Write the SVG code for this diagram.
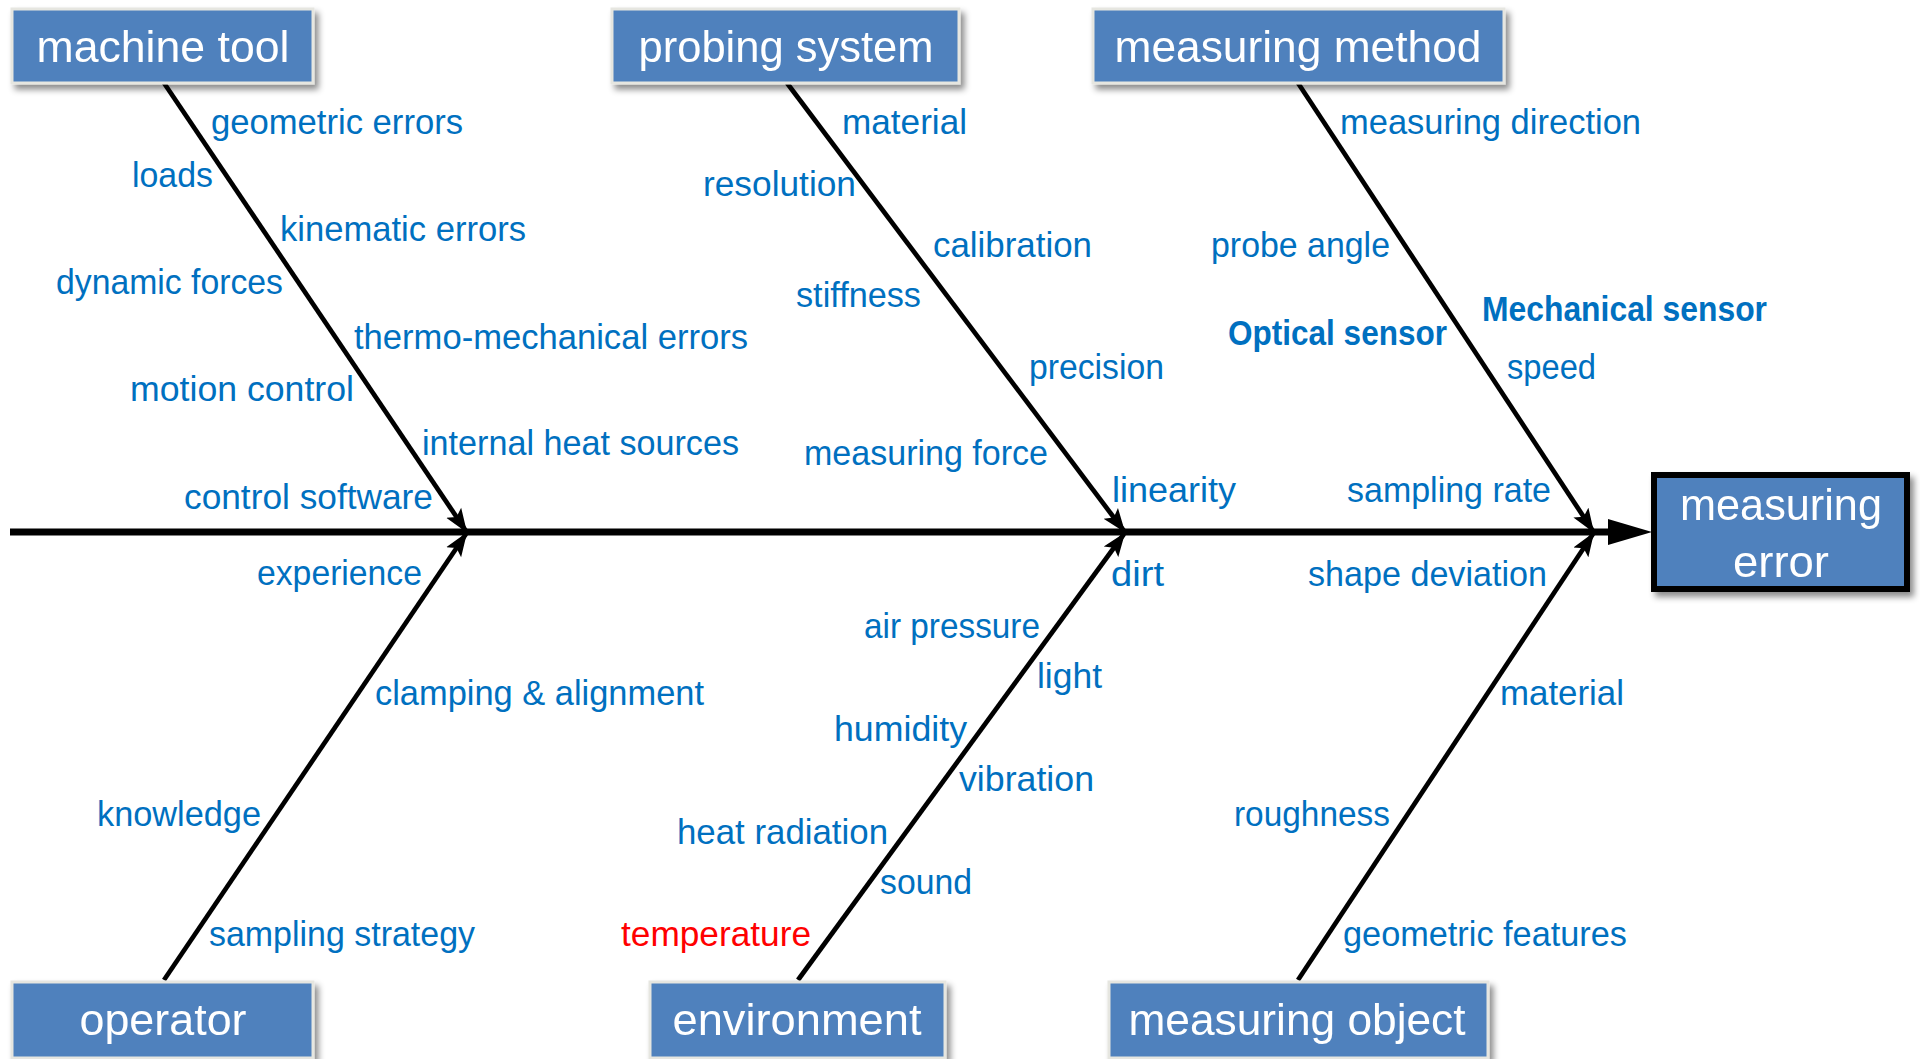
<svg xmlns="http://www.w3.org/2000/svg" width="1920" height="1059" viewBox="0 0 1920 1059">
<style>
.box{fill:#4F81BD;stroke:#E6E6E0;stroke-width:3}
.effect{fill:#4F81BD;stroke:#000;stroke-width:6}
.bt{font-family:'Liberation Sans',Arial,sans-serif;font-size:45px;fill:#fff;text-anchor:middle}
.lbl{font-family:'Liberation Sans',Arial,sans-serif;font-size:35px;fill:#0070C0}
.b{font-weight:bold}
.red{fill:#FF0000}
.bone{stroke:#000;stroke-width:4.7;fill:none;marker-end:url(#ah)}
.spine{stroke:#000;stroke-width:7;fill:none}
</style>
<defs>
<filter id="sh" x="-10%" y="-20%" width="130%" height="150%">
<feDropShadow dx="4" dy="5" stdDeviation="3" flood-color="#000" flood-opacity="0.45"/>
</filter>
<marker id="ah" markerUnits="userSpaceOnUse" markerWidth="24" markerHeight="20" viewBox="0 0 24 20" refX="22" refY="10" orient="auto">
<path d="M0,1 L24,10 L0,19 L5,10 Z" fill="#000"/>
</marker>
</defs>
<rect width="1920" height="1059" fill="#fff"/>

<g id="connectors">
<line class="spine" x1="10" y1="532" x2="1615" y2="532"/>
<path d="M1608,519 L1652,532 L1608,545 Z" fill="#000"/>
<line class="bone" x1="164" y1="83" x2="466" y2="531"/>
<line class="bone" x1="787" y1="83" x2="1124" y2="531"/>
<line class="bone" x1="1298" y1="83" x2="1593" y2="531"/>
<line class="bone" x1="164" y1="980" x2="466" y2="534"/>
<line class="bone" x1="798" y1="980" x2="1124" y2="534"/>
<line class="bone" x1="1298" y1="980" x2="1593" y2="534"/>
</g>

<g id="machine-tool" filter="url(#sh)">
<rect class="box" x="12" y="9" width="301" height="74"/>
<text class="bt" x="163" y="62" textLength="253" lengthAdjust="spacingAndGlyphs">machine tool</text>
</g>
<g id="probing-system" filter="url(#sh)">
<rect class="box" x="612" y="9" width="347" height="74"/>
<text class="bt" x="786" y="62" textLength="295" lengthAdjust="spacingAndGlyphs">probing system</text>
</g>
<g id="measuring-method" filter="url(#sh)">
<rect class="box" x="1093" y="9" width="411" height="74"/>
<text class="bt" x="1298" y="62" textLength="367" lengthAdjust="spacingAndGlyphs">measuring method</text>
</g>
<g id="operator" filter="url(#sh)">
<rect class="box" x="12" y="982" width="301" height="76"/>
<text class="bt" x="163" y="1035" textLength="167" lengthAdjust="spacingAndGlyphs">operator</text>
</g>
<g id="environment" filter="url(#sh)">
<rect class="box" x="650" y="982" width="295" height="76"/>
<text class="bt" x="797" y="1035" textLength="249" lengthAdjust="spacingAndGlyphs">environment</text>
</g>
<g id="measuring-object" filter="url(#sh)">
<rect class="box" x="1109" y="982" width="379" height="76"/>
<text class="bt" x="1297" y="1035" textLength="337" lengthAdjust="spacingAndGlyphs">measuring object</text>
</g>
<g id="measuring-error" filter="url(#sh)">
<rect class="effect" x="1654" y="475" width="253" height="114"/>
<text class="bt" x="1781" y="520" textLength="202" lengthAdjust="spacingAndGlyphs">measuring</text>
<text class="bt" x="1781" y="577" textLength="96" lengthAdjust="spacingAndGlyphs">error</text>
</g>

<g id="labels-machine-tool">
<text class="lbl" x="211" y="134" textLength="252" lengthAdjust="spacingAndGlyphs">geometric errors</text>
<text class="lbl" x="132" y="187" textLength="81" lengthAdjust="spacingAndGlyphs">loads</text>
<text class="lbl" x="280" y="241" textLength="246" lengthAdjust="spacingAndGlyphs">kinematic errors</text>
<text class="lbl" x="56" y="294" textLength="227" lengthAdjust="spacingAndGlyphs">dynamic forces</text>
<text class="lbl" x="354" y="349" textLength="394" lengthAdjust="spacingAndGlyphs">thermo-mechanical errors</text>
<text class="lbl" x="130" y="401" textLength="224" lengthAdjust="spacingAndGlyphs">motion control</text>
<text class="lbl" x="422" y="455" textLength="317" lengthAdjust="spacingAndGlyphs">internal heat sources</text>
<text class="lbl" x="184" y="509" textLength="249" lengthAdjust="spacingAndGlyphs">control software</text>
</g>
<g id="labels-operator">
<text class="lbl" x="257" y="585" textLength="165" lengthAdjust="spacingAndGlyphs">experience</text>
<text class="lbl" x="375" y="705" textLength="329" lengthAdjust="spacingAndGlyphs">clamping &amp; alignment</text>
<text class="lbl" x="97" y="826" textLength="164" lengthAdjust="spacingAndGlyphs">knowledge</text>
<text class="lbl" x="209" y="946" textLength="266" lengthAdjust="spacingAndGlyphs">sampling strategy</text>
</g>
<g id="labels-probing-system">
<text class="lbl" x="842" y="134" textLength="125" lengthAdjust="spacingAndGlyphs">material</text>
<text class="lbl" x="703" y="196" textLength="153" lengthAdjust="spacingAndGlyphs">resolution</text>
<text class="lbl" x="933" y="257" textLength="159" lengthAdjust="spacingAndGlyphs">calibration</text>
<text class="lbl" x="796" y="307" textLength="125" lengthAdjust="spacingAndGlyphs">stiffness</text>
<text class="lbl" x="1029" y="379" textLength="135" lengthAdjust="spacingAndGlyphs">precision</text>
<text class="lbl" x="804" y="465" textLength="244" lengthAdjust="spacingAndGlyphs">measuring force</text>
<text class="lbl" x="1112" y="502" textLength="124" lengthAdjust="spacingAndGlyphs">linearity</text>
</g>
<g id="labels-environment">
<text class="lbl" x="1111" y="586" textLength="53" lengthAdjust="spacingAndGlyphs">dirt</text>
<text class="lbl" x="864" y="638" textLength="176" lengthAdjust="spacingAndGlyphs">air pressure</text>
<text class="lbl" x="1037" y="688" textLength="65" lengthAdjust="spacingAndGlyphs">light</text>
<text class="lbl" x="834" y="741" textLength="133" lengthAdjust="spacingAndGlyphs">humidity</text>
<text class="lbl" x="959" y="791" textLength="135" lengthAdjust="spacingAndGlyphs">vibration</text>
<text class="lbl" x="677" y="844" textLength="211" lengthAdjust="spacingAndGlyphs">heat radiation</text>
<text class="lbl" x="880" y="894" textLength="92" lengthAdjust="spacingAndGlyphs">sound</text>
<text class="lbl red" x="621" y="946" textLength="190" lengthAdjust="spacingAndGlyphs">temperature</text>
</g>
<g id="labels-measuring-method">
<text class="lbl" x="1340" y="134" textLength="301" lengthAdjust="spacingAndGlyphs">measuring direction</text>
<text class="lbl" x="1211" y="257" textLength="179" lengthAdjust="spacingAndGlyphs">probe angle</text>
<text class="lbl b" x="1482" y="321" textLength="285" lengthAdjust="spacingAndGlyphs">Mechanical sensor</text>
<text class="lbl b" x="1228" y="345" textLength="219" lengthAdjust="spacingAndGlyphs">Optical sensor</text>
<text class="lbl" x="1507" y="379" textLength="89" lengthAdjust="spacingAndGlyphs">speed</text>
<text class="lbl" x="1347" y="502" textLength="204" lengthAdjust="spacingAndGlyphs">sampling rate</text>
</g>
<g id="labels-measuring-object">
<text class="lbl" x="1308" y="586" textLength="239" lengthAdjust="spacingAndGlyphs">shape deviation</text>
<text class="lbl" x="1500" y="705" textLength="124" lengthAdjust="spacingAndGlyphs">material</text>
<text class="lbl" x="1234" y="826" textLength="156" lengthAdjust="spacingAndGlyphs">roughness</text>
<text class="lbl" x="1343" y="946" textLength="284" lengthAdjust="spacingAndGlyphs">geometric features</text>
</g>
</svg>
